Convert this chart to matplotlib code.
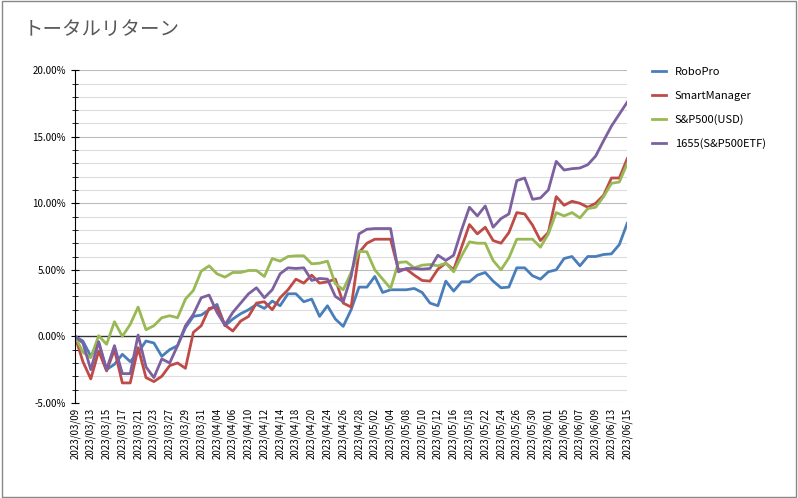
import matplotlib
matplotlib.use("Agg")
import matplotlib.pyplot as plt
import numpy as np
import pandas as pd

plt.rcParams['font.family'] = ['Noto Sans CJK JP', 'DejaVu Sans']

dates = pd.bdate_range("2023-03-09", "2023-06-15").strftime("%Y/%m/%d").tolist()

robopro = [0, -0.35, -1.5, -0.5, -2.5, -2.1, -1.35, -1.9, -1.2, -0.35, -0.5, -1.5, -1.0, -0.7, 0.65, 1.5,
           1.6, 2.0, 2.4, 0.8, 1.3, 1.7, 2.0, 2.4, 2.1, 2.65, 2.3, 3.2, 3.2, 2.6, 2.8, 1.5, 2.3, 1.3, 0.75, 2.0,
           3.7, 3.7, 4.5, 3.3, 3.5, 3.5, 3.5, 3.6, 3.3, 2.5, 2.3, 4.15, 3.4, 4.1, 4.1, 4.6, 4.8, 4.15, 3.65, 3.7,
           5.15, 5.15, 4.55, 4.3, 4.85, 5.0, 5.85, 6.0, 5.3, 6.0, 6.0, 6.15, 6.2, 6.9, 8.5]
smart = [0, -1.9, -3.2, -1.1, -2.6, -1.0, -3.5, -3.5, -0.85, -3.1, -3.4, -3.0, -2.2, -2.0, -2.4, 0.3,
         0.8, 2.1, 2.2, 0.85, 0.4, 1.15, 1.5, 2.5, 2.6, 2.0, 2.9, 3.5, 4.3, 4.0, 4.6, 4.0, 4.1, 4.3, 2.5, 2.2,
         6.3, 7.0, 7.3, 7.3, 7.3, 5.0, 5.05, 4.6, 4.2, 4.15, 5.05, 5.5, 5.0, 6.7, 8.4, 7.7, 8.2, 7.2, 7.0, 7.8,
         9.3, 9.2, 8.35, 7.2, 7.8, 10.5, 9.85, 10.15, 10.0, 9.7, 10.0, 10.6, 11.9, 11.9, 13.35]
sp500 = [0, -1.2, -1.6, 0.05, -0.6, 1.1, 0.0, 0.9, 2.2, 0.5, 0.8, 1.4, 1.55, 1.4, 2.8, 3.45,
         4.9, 5.3, 4.7, 4.45, 4.8, 4.8, 4.95, 4.95, 4.5, 5.85, 5.65, 6.0, 6.05, 6.05, 5.45, 5.5, 5.65, 3.95, 3.5, 4.8,
         6.4, 6.35, 5.0, 4.3, 3.6, 5.55, 5.6, 5.15, 5.35, 5.4, 5.3, 5.5, 4.85, 6.05, 7.1, 7.0, 7.0, 5.7, 5.0, 5.9,
         7.3, 7.3, 7.3, 6.7, 7.7, 9.3, 9.05, 9.3, 8.9, 9.6, 9.7, 10.5, 11.5, 11.6, 13.0]
etf1655 = [0, -0.5, -2.5, -0.4, -2.5, -0.7, -2.8, -2.8, 0.1, -2.3, -3.1, -1.7, -2.0, -0.7, 0.8, 1.65,
           2.9, 3.1, 1.8, 0.85, 1.8, 2.5, 3.2, 3.65, 2.9, 3.5, 4.7, 5.15, 5.1, 5.15, 4.2, 4.35, 4.3, 3.0, 2.6, 4.5,
           7.7, 8.05, 8.1, 8.1, 8.1, 4.85, 5.1, 5.1, 5.05, 5.1, 6.1, 5.7, 6.1, 8.0, 9.7, 9.05, 9.8, 8.2, 8.85, 9.2,
           11.7, 11.9, 10.3, 10.4, 11.0, 13.15, 12.5, 12.6, 12.65, 12.9, 13.55, 14.7, 15.8, 16.7, 17.6]

series = [("RoboPro", robopro, "#4A7EBB"), ("SmartManager", smart, "#BE4B48"),
          ("S&P500(USD)", sp500, "#98B954"), ("1655(S&P500ETF)", etf1655, "#7D60A0")]

fig = plt.figure(figsize=(7.98, 4.98), dpi=100)
fig.patches.append(plt.Rectangle((0.002, 0.002), 0.996, 0.996, transform=fig.transFigure,
                                 fill=False, edgecolor="#888888", lw=1))
ax = fig.add_axes([0.094, 0.191, 0.692, 0.668])
x = np.arange(len(dates))
for name, vals, c in series:
    ax.plot(x, vals, color=c, lw=2, label=name)

ax.set_xlim(0, len(dates) - 1)
ax.set_ylim(-5, 20)
for v in range(-5, 21):
    if v == 0:
        continue
    ax.axhline(v, color="#BBBBBB" if v % 5 == 0 else "#DDDDDD", lw=0.8, zorder=0)
ax.axhline(0, color="#333333", lw=1, zorder=1)
ax.set_yticks(range(-5, 21, 5))
ax.set_yticklabels([f"{v:.2f}%" for v in range(-5, 21, 5)], fontsize=7)
ax.set_yticks(range(-5, 21), minor=True)
ax.tick_params(axis='y', which='both', direction='inout', length=6)
ax.tick_params(axis='y', which='minor', length=4)
ax.set_xticks(x[::2])
ax.set_xticklabels(dates[::2], rotation=90, fontsize=7)
ax.tick_params(axis='x', length=0)
for s in ["top", "right", "bottom"]:
    ax.spines[s].set_visible(False)
ax.spines["left"].set_color("black")

fig.text(0.03, 0.93, "トータルリターン", fontsize=14, color="#595959")
fig.legend(loc="upper left", bbox_to_anchor=(0.805, 0.885), frameon=False, fontsize=8,
           handlelength=1.2, labelspacing=1.2)

fig.savefig("out.png", dpi=100)
